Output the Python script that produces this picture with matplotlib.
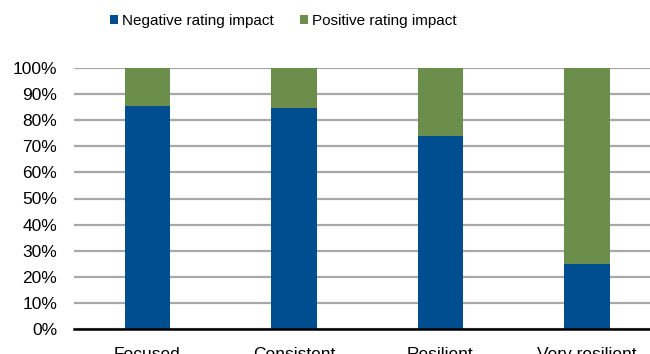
import numpy as np
import matplotlib.pyplot as plt

plt.rcParams['font.family'] = ['Liberation Sans', 'DejaVu Sans']

categories = ["Focused", "Consistent", "Resilient", "Very resilient"]
negative = [85.5, 84.5, 74, 25]
positive = [100 - v for v in negative]
yticks = np.arange(0, 101, 10)

blue = '#004e8f'
green = '#6c8e4c'

fig = plt.figure(figsize=(6.5, 3.54), dpi=100)
ax = fig.add_axes([74/650, (354-329)/354, 576/650, (329-68)/354])

x = np.arange(len(categories))
w = 0.31
ax.bar(x, negative, w, color=blue, label="Negative rating impact", zorder=3)
ax.bar(x, positive, w, bottom=negative, color=green, label="Positive rating impact", zorder=3)

ax.set_xlim(-0.5, 3.43)
ax.set_ylim(0, 100)
ax.set_yticks(yticks)
ax.set_yticklabels([f"{v}%" for v in yticks], fontsize=12.5)
ax.set_xticks(x)
ax.set_xticklabels(categories, fontsize=12.5)
ax.tick_params(axis='both', length=0)
ax.tick_params(axis='x', pad=13)
ax.tick_params(axis='y', pad=12)
ax.yaxis.grid(True, color='#a8a8a8', linewidth=1.6, zorder=0)
for s in ['left', 'right', 'top']:
    ax.spines[s].set_visible(False)
ax.spines['bottom'].set_color('black')
ax.spines['bottom'].set_linewidth(1.8)
ax.spines['bottom'].set_zorder(4)

fig.legend(loc='center', bbox_to_anchor=(283/650, 1 - 21/354), ncol=2, frameon=False,
           fontsize=11, handlelength=0.55, handleheight=0.6, handletextpad=0.25,
           columnspacing=1.7)

fig.savefig('out.png', dpi=100)
